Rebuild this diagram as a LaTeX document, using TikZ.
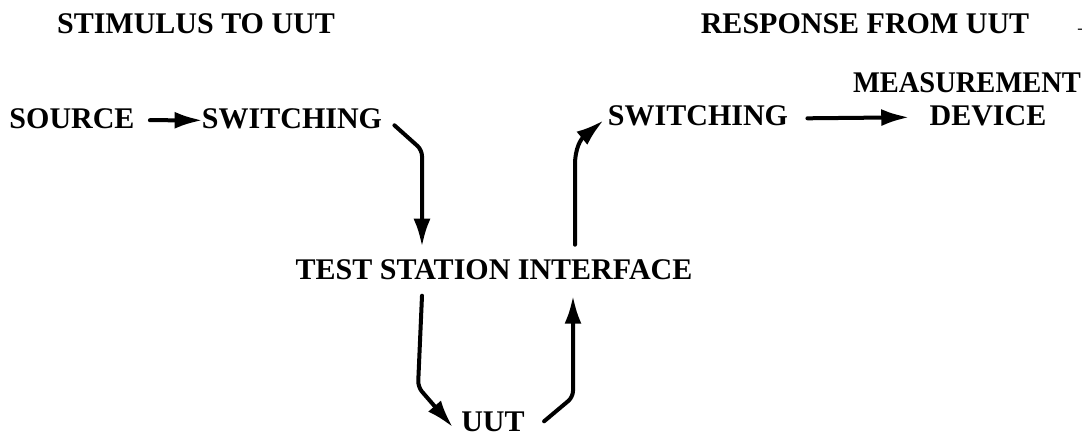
\documentclass[tikz,border=0pt]{standalone}
\usepackage{fontspec}
\setmainfont{Liberation Serif}
\usetikzlibrary{arrows.meta,calc}
\begin{document}
\begin{tikzpicture}[x=0.5pt,y=-0.5pt,
  lbl/.style={inner sep=0pt,anchor=base,font=\fontsize{15}{18}\selectfont\bfseries},
  flow/.style={line width=2pt,-{Latex[length=14pt,width=8.5pt]},line cap=round,line join=round}]
\useasboundingbox (0,0) rectangle (1092,435);

% headings
\node[lbl] (stim) at (196,33) {STIMULUS TO UUT};
\node[lbl] (resp) at (865,33) {RESPONSE FROM UUT};
\node[inner sep=0pt,anchor=base,font=\fontsize{8}{9}\selectfont] (tick) at (1080,33) {-};

% blocks
\node[lbl] (src) at (72,128) {SOURCE};
\node[lbl] (swa) at (292,128) {SWITCHING};
\node[lbl] (swb) at (698,125) {SWITCHING};
\node[lbl,xscale=0.95] (meas) at (967,92) {MEASUREMENT};
\node[lbl] (dev) at (988,125) {DEVICE};
\node[lbl] (tsi) at (494,279) {TEST STATION INTERFACE};
\node[lbl] (uut) at (493,431) {UUT};

% bend points of the stimulus and response paths
\coordinate (bl) at (422,150);
\coordinate (br) at (575,165);

% stimulus path
\draw[flow] ($(src.east)+(15,2)$) -- ($(swa.west)+(1,2)$);
\draw[flow,rounded corners=3pt] ($(swa.east)+(12,7)$) -- (bl) -- ($(bl |- tsi.north)+(0,-12)$);
\draw[flow,rounded corners=3pt] ($(bl |- tsi.south)+(0,16)$) -- (418,387) -- ($(uut.west)+(-8,6)$);

% response path
\draw[flow,rounded corners=3pt] ($(uut.east)+(19,0)$) -- (573,397) -- ($(573,0 |- tsi.south)+(0,16)$);
\draw[flow] ($(br |- tsi.north)+(0,-14)$) -- (br) .. controls (575,148) and (581,139) .. ($(swb.west)+(-4,5)$);
\draw[flow] ($(swb.east)+(19,3)$) -- ($(dev.west)+(-20,2)$);
\end{tikzpicture}
\end{document}
